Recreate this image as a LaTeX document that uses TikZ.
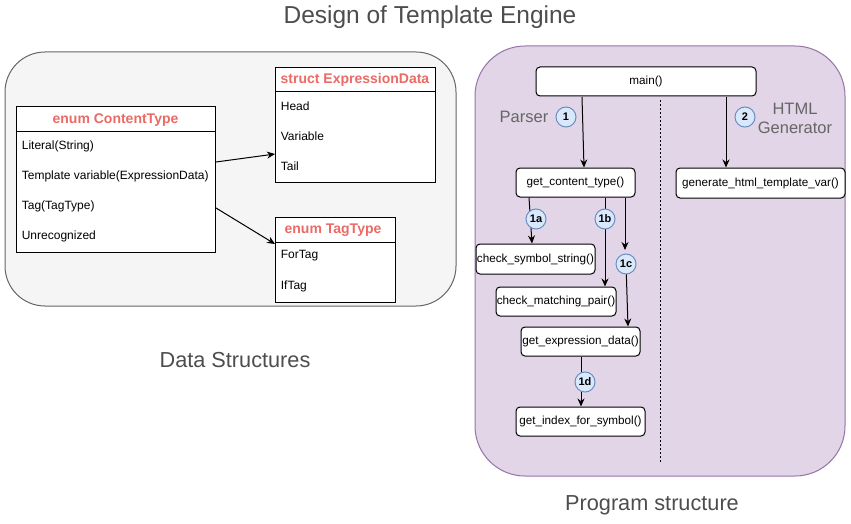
\documentclass[tikz,border=0pt]{standalone}
\usepackage{fontspec}
\setmainfont{Liberation Sans}
\usetikzlibrary{arrows.meta}
\definecolor{pnlgray}{HTML}{F5F5F5}
\definecolor{pnlline}{HTML}{666666}
\definecolor{pnlpurple}{HTML}{E1D5E7}
\definecolor{pnlpurpleline}{HTML}{9673A6}
\definecolor{hdrred}{HTML}{EA6B66}
\definecolor{stepblue}{HTML}{DAE8FC}
\definecolor{stepline}{HTML}{6C8EBF}
\definecolor{capgray}{HTML}{4D4D4D}
\tikzset{
  fnbox/.style={draw,fill=white,rounded corners=4pt,inner sep=0pt,font=\fontsize{11.7}{14}\selectfont},
  stepnum/.style={circle,draw=stepline,fill=stepblue,inner sep=0pt,minimum size=20pt,font=\bfseries\fontsize{11}{13}\selectfont},
  item/.style={anchor=west,font=\fontsize{12}{14}\selectfont},
  hdr/.style={font=\bfseries\fontsize{14}{16}\selectfont,text=hdrred},
  caption/.style={text=capgray,font=\fontsize{21.7}{24}\selectfont},
  arr/.style={-{Stealth[length=8pt,width=7pt]}}
}
\begin{document}
\begin{tikzpicture}[x=1pt,y=-1pt,line width=1pt]
  \useasboundingbox (0,0) rectangle (851,524);
  \node[caption,font=\fontsize{24.5}{28}\selectfont] (title) at (430,17) {Design of Template Engine};
  % (I) data structures
  \begin{scope}
    \draw[pnlline,fill=pnlgray,rounded corners=40pt] (5,52) rectangle (456,306);
    \node[caption] (dscap) at (235,360) {Data Structures};
    % enum ContentType
    \node[draw,fill=white,minimum width=199pt,minimum height=146pt,anchor=north west] (ct) at (16,106) {};
    \draw (16,132) -- (215,132);
    \node[hdr] (cthdr) at (115.5,120) {enum ContentType};
    \node[item] (ct1) at (18,146) {Literal(String)};
    \node[item] (ct2) at (18,176) {Template variable(ExpressionData)};
    \node[item] (ct3) at (18,206) {Tag(TagType)};
    \node[item] (ct4) at (18,236) {Unrecognized};
    % struct ExpressionData
    \node[draw,fill=white,minimum width=160pt,minimum height=115pt,anchor=north west] (ed) at (275,67) {};
    \draw (275,92) -- (435,92);
    \node[hdr] (edhdr) at (355,80) {struct ExpressionData};
    \node[item] (ed1) at (277,106) {Head};
    \node[item] (ed2) at (277,136) {Variable};
    \node[item] (ed3) at (277,166) {Tail};
    % enum TagType
    \node[draw,fill=white,minimum width=120pt,minimum height=85pt,anchor=north west] (tt) at (275,217) {};
    \draw (275,242) -- (395,242);
    \node[hdr] (tthdr) at (333,230) {enum TagType};
    \node[item] (tt1) at (277,256) {ForTag};
    \node[item] (tt2) at (277,286) {IfTag};
    \coordinate (ctA) at (216,162);
    \coordinate (ctB) at (216,208);
    \draw[arr] (ctA) -- (ed.west |- 0,154);
    \draw[arr] (ctB) -- (tt.west |- 0,244);
  \end{scope}
  % (II) program structure
  \begin{scope}
    \draw[pnlpurpleline,fill=pnlpurple,rounded corners=50pt] (475,46) rectangle (845,476);
    \node[caption] (pscap) at (652,505) {Program structure};
    \draw[dash pattern=on 2pt off 2pt] (660,100) -- (660,462);
    \node[fnbox,minimum width=220pt,minimum height=29pt] (main) at (646,81.5) {main()};
    \node[text=pnlline,font=\fontsize{16.5}{19}\selectfont] (parser) at (524,117) {Parser};
    \node[stepnum] (s1) at (566,117) {1};
    \node[text=pnlline,font=\fontsize{16.5}{19}\selectfont,align=center] (html) at (795,118) {HTML\\Generator};
    \node[stepnum] (s2) at (745,117) {2};
    \node[fnbox,minimum width=119pt,minimum height=29pt] (gct) at (575.5,182.5) {get\_content\_type()};
    \node[fnbox,minimum width=169pt,minimum height=30pt] (gen) at (760.5,183) {generate\_html\_template\_var()};
    \node[fnbox,minimum width=119pt,minimum height=30pt] (css) at (535.5,259) {check\_symbol\_string()};
    \node[fnbox,minimum width=120pt,minimum height=29pt] (cmp) at (556,301.5) {check\_matching\_pair()};
    \node[fnbox,minimum width=119pt,minimum height=29pt] (ged) at (580.5,341.5) {get\_expression\_data()};
    \node[fnbox,minimum width=129pt,minimum height=29pt] (gis) at (580.5,421.5) {get\_index\_for\_symbol()};
    % step arrows
    \draw[arr] (582,97) -- (gct.north -| 584,0);
    \draw[arr] (726,97) -- (gen.north -| 726,0);
    \draw[arr] (gct.south -| 529,0) -- (css.north -| 532,0);
    \node[stepnum] (s1a) at (536,219) {1a};
    \draw[arr] (gct.south -| 605,0) -- (cmp.north -| 605,0);
    \node[stepnum] (s1b) at (605,219) {1b};
    \draw[arr] (gct.south -| 625,0) -- (625,250);
    \node[stepnum] (s1c) at (626,264) {1c};
    \draw[arr] (s1c) -- (ged.north -| 628,0);
    \draw[arr] (ged.south -| 581,0) -- (gis.north -| 581,0);
    \node[stepnum] (s1d) at (585,382) {1d};
  \end{scope}
\end{tikzpicture}
\end{document}
